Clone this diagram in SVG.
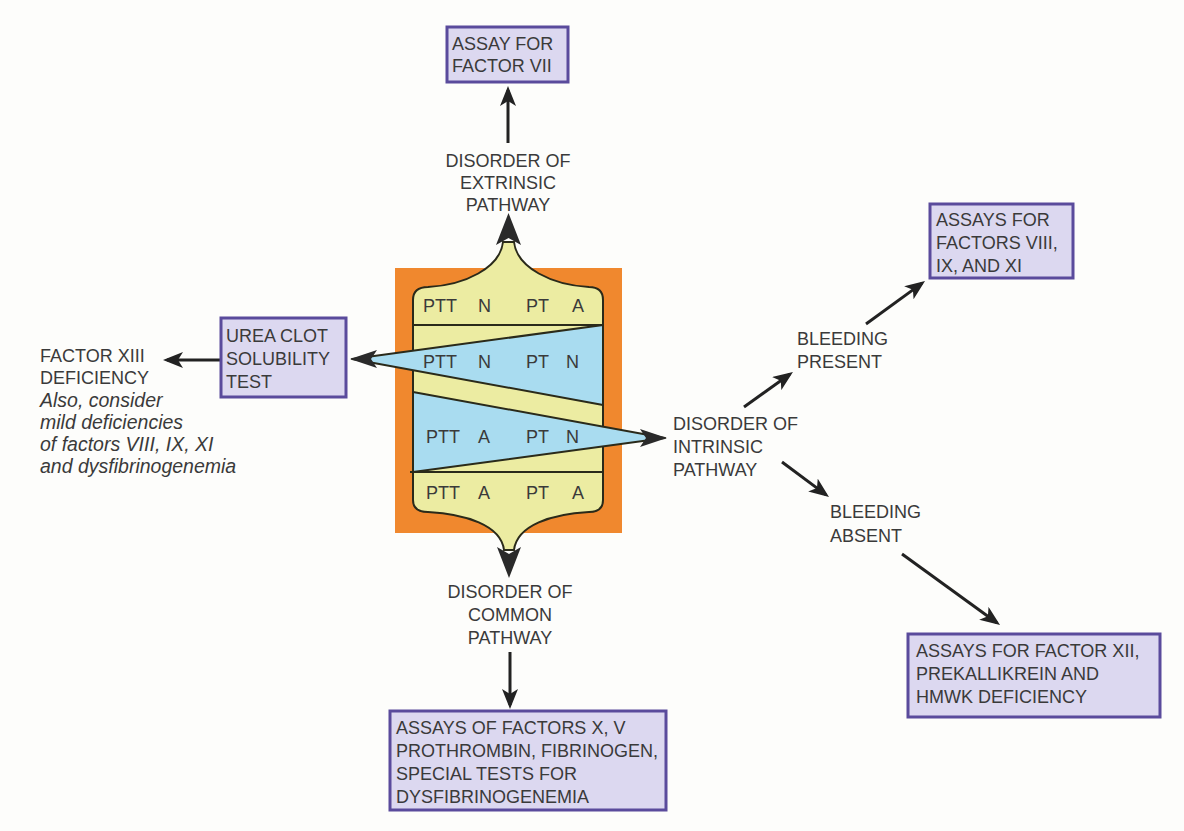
<svg xmlns="http://www.w3.org/2000/svg" width="1184" height="831" viewBox="0 0 1184 831">
<style>
text{font-family:"Liberation Sans",Arial,sans-serif;font-size:18px;fill:#3a3a3a}
.c{text-anchor:middle}
.it{font-style:italic;font-size:19.5px}
.box{fill:#dcd8f0;stroke:#5a4b9c;stroke-width:3}
.arr{stroke:#222;stroke-width:3;fill:none;marker-end:url(#ah)}
.ln{stroke:#2a2a1a;stroke-width:2;fill:none}
.head{fill:#2a2a2a}
</style>
<defs>
<marker id="ah" viewBox="0 0 20 16" refX="16" refY="8" markerWidth="20" markerHeight="16" markerUnits="userSpaceOnUse" orient="auto">
<path d="M0,0 L20,8 L0,16 L5,8 Z" fill="#222"/>
</marker>
</defs>
<rect width="1184" height="831" fill="#fdfdfb"/>

<g id="center-test">
<rect x="395" y="268" width="227" height="265" fill="#f0882e"/>
<path d="M413,300 Q413,287 428,287 C465,285 500,268 503,242 L514,242 C517,268 552,285 589,287 Q603,287 603,300 L603,500 Q603,512 589,512 C552,514 517,525 514,550 L504,550 C501,525 465,514 428,512 Q413,512 413,500 Z" fill="#ececa2" stroke="#2a2a1a" stroke-width="2"/>
<polygon points="352,359 603,325 603,405" fill="#a9dcf0" stroke="#2a2a1a" stroke-width="2" stroke-linejoin="round"/>
<polygon points="665,438 413,392 413,472" fill="#a9dcf0" stroke="#2a2a1a" stroke-width="2" stroke-linejoin="round"/>
<line class="ln" x1="413" y1="325" x2="603" y2="325"/>
<line class="ln" x1="410" y1="472" x2="603" y2="472"/>
<polygon class="head" points="508.5,213 521,245 508.5,238 496,245"/>
<polygon class="head" points="509,578 521,547 509,554 497,547"/>
<polygon class="head" points="350,359 377,350 371,359 377,368"/>
<polygon class="head" points="667,438 640,429 646,438 640,447"/>
<text x="423" y="312">PTT</text><text x="478" y="312">N</text><text x="526" y="312">PT</text><text x="572" y="312">A</text>
<text x="423" y="368">PTT</text><text x="478" y="368">N</text><text x="526" y="368">PT</text><text x="566" y="368">N</text>
<text x="426" y="443">PTT</text><text x="478" y="443">A</text><text x="526" y="443">PT</text><text x="566" y="443">N</text>
<text x="426" y="499">PTT</text><text x="478" y="499">A</text><text x="526" y="499">PT</text><text x="572" y="499">A</text>
</g>

<g id="connectors">
<line class="arr" x1="508" y1="143" x2="508" y2="90"/>
<line class="arr" x1="510" y1="652" x2="510" y2="705"/>
<line class="arr" x1="221" y1="360" x2="167" y2="360"/>
<line class="arr" x1="744" y1="407" x2="789.7" y2="374.3"/>
<line class="arr" x1="866" y1="324" x2="921.8" y2="283.4"/>
<line class="arr" x1="782" y1="462" x2="825.8" y2="494.6"/>
<line class="arr" x1="902" y1="554" x2="996.8" y2="622.7"/>
</g>

<g id="assay-factor-vii">
<rect class="box" x="447" y="27" width="121" height="55"/>
<text x="452" y="50">ASSAY FOR</text>
<text x="452" y="72">FACTOR VII</text>
</g>

<g id="extrinsic">
<text class="c" x="508" y="167">DISORDER OF</text>
<text class="c" x="508" y="189">EXTRINSIC</text>
<text class="c" x="508" y="211">PATHWAY</text>
</g>

<g id="urea-clot">
<rect class="box" x="221" y="318" width="125" height="79"/>
<text x="226" y="342">UREA CLOT</text>
<text x="226" y="365">SOLUBILITY</text>
<text x="226" y="388">TEST</text>
</g>

<g id="factor-xiii">
<text x="40" y="362">FACTOR XIII</text>
<text x="40" y="384">DEFICIENCY</text>
<text class="it" x="40" y="407">Also, consider</text>
<text class="it" x="40" y="429">mild deficiencies</text>
<text class="it" x="40" y="451">of factors VIII, IX, XI</text>
<text class="it" x="40" y="473">and dysfibrinogenemia</text>
</g>

<g id="common">
<text class="c" x="510" y="598">DISORDER OF</text>
<text class="c" x="510" y="621">COMMON</text>
<text class="c" x="510" y="644">PATHWAY</text>
</g>

<g id="assays-common">
<rect class="box" x="390" y="711" width="276" height="99"/>
<text x="396" y="734">ASSAYS OF FACTORS X, V</text>
<text x="396" y="757">PROTHROMBIN, FIBRINOGEN,</text>
<text x="396" y="780">SPECIAL TESTS FOR</text>
<text x="396" y="803">DYSFIBRINOGENEMIA</text>
</g>

<g id="intrinsic">
<text x="673" y="430">DISORDER OF</text>
<text x="673" y="453">INTRINSIC</text>
<text x="673" y="476">PATHWAY</text>
</g>

<g id="bleeding-present">
<text x="797" y="345">BLEEDING</text>
<text x="797" y="368">PRESENT</text>
</g>

<g id="assays-viii">
<rect class="box" x="930" y="204" width="143" height="74"/>
<text x="936" y="226">ASSAYS FOR</text>
<text x="936" y="249">FACTORS VIII,</text>
<text x="936" y="272">IX, AND XI</text>
</g>

<g id="bleeding-absent">
<text x="830" y="518">BLEEDING</text>
<text x="830" y="542">ABSENT</text>
</g>

<g id="assays-xii">
<rect class="box" x="908" y="634" width="252" height="83"/>
<text x="916" y="657">ASSAYS FOR FACTOR XII,</text>
<text x="916" y="680">PREKALLIKREIN AND</text>
<text x="916" y="703">HMWK DEFICIENCY</text>
</g>
</svg>
